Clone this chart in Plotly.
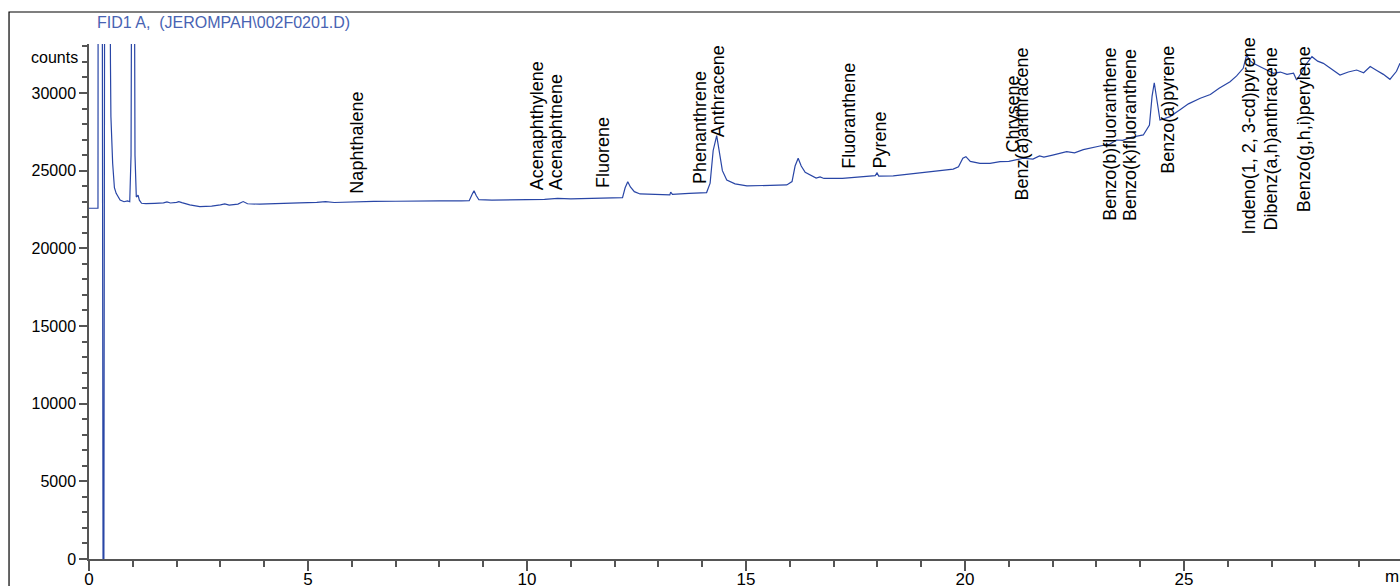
import plotly.graph_objects as go

# ---- data ----
time_min = [0.00, 0.205, 0.21, 0.30, 0.32, 0.34, 0.36, 0.47, 0.49, 0.50, 0.54, 0.58, 0.62, 0.67, 0.71,
            0.80, 0.88, 0.93, 0.96, 0.98, 1.03, 1.05, 1.08, 1.12, 1.15, 1.20, 1.30, 1.50, 1.70, 1.78,
            1.86, 2.00, 2.05, 2.12, 2.30, 2.53, 2.80, 3.00, 3.10, 3.20, 3.40, 3.52, 3.62, 3.90, 4.30,
            4.80, 5.20, 5.40, 5.60, 6.00, 6.50, 7.00, 7.50, 8.00, 8.50, 8.68, 8.75, 8.79, 8.84, 8.90,
            9.20, 9.60, 10.00, 10.40, 10.70, 11.00, 11.50, 12.00, 12.18, 12.24, 12.30, 12.36, 12.45, 12.58, 12.90,
            13.26, 13.28, 13.32, 13.70, 14.10, 14.18, 14.25, 14.33, 14.40, 14.46, 14.56, 14.75, 15.02, 15.40,
            15.93, 16.05, 16.12, 16.19, 16.26, 16.35, 16.46, 16.60, 16.69, 16.78, 17.20, 17.75, 17.95, 17.99,
            18.03, 18.36, 18.80, 19.30, 19.73, 19.85, 19.95, 20.02, 20.12, 20.34, 20.57, 20.80, 21.00, 21.33,
            21.55, 21.70, 21.80, 22.00, 22.32, 22.50, 22.70, 23.08, 23.30, 23.46, 23.60, 23.80, 24.07, 24.21,
            24.27, 24.32, 24.38, 24.45, 24.55, 24.68, 24.90, 25.10, 25.37, 25.60, 25.80, 26.05, 26.20, 26.35,
            26.43, 26.50, 26.58, 26.70, 26.85, 27.04, 27.20, 27.35, 27.50, 27.57, 27.70, 27.80, 27.92, 28.05,
            28.18, 28.35, 28.56, 28.75, 28.94, 29.10, 29.25, 29.40, 29.55, 29.70, 29.85, 29.93]
counts = [22580, 22580, 45000, 45000, 0, 0, 45000, 45000, 31900, 28500, 25475, 23900, 23540, 23250, 23112,
          23000, 23050, 23000, 26000, 45000, 45000, 26000, 23300, 23430, 23100, 22900, 22880, 22900, 22930, 22990,
          22920, 22960, 23010, 22940, 22800, 22680, 22720, 22800, 22860, 22780, 22850, 23010, 22870, 22840, 22900,
          22930, 22960, 23010, 22950, 22990, 23020, 23030, 23060, 23060, 23050, 23070, 23500, 23700, 23400, 23130,
          23110, 23100, 23130, 23150, 23220, 23180, 23200, 23230, 23260, 23900, 24290, 23950, 23650, 23500, 23460,
          23440, 23620, 23480, 23540, 23590, 24200, 26300, 27250, 26000, 25000, 24400, 24150, 24020, 24050,
          24080, 24300, 25300, 25800, 25300, 24900, 24720, 24520, 24600, 24500, 24510, 24660, 24680, 24850,
          24650, 24660, 24800, 24950, 25100, 25250, 25800, 25900, 25600, 25470, 25470, 25580, 25600, 25800,
          25750, 25950, 25870, 26000, 26220, 26150, 26350, 26590, 26700, 26975, 26950, 27150, 27300, 27940,
          29800, 30660, 29600, 28260, 28350, 28480, 28900, 29300, 29660, 29900, 30300, 30730, 31100, 31590,
          32450, 32100, 31910, 31750, 31500, 31270, 31350, 31200, 31270, 30840, 31400, 31900, 32340, 32050,
          31910, 31600, 31160, 31350, 31480, 31300, 31700, 31450, 31200, 30880, 31400, 31910]

peak_names = ["Naphthalene", "Acenaphthylene", "Acenaphtnene", "Fluorene", "Phenanthrene", "Anthracene",
              "Fluoranthene", "Pyrene", "Chrysene", "Benz(a)anthracene", "Benzo(b)fluoranthene",
              "Benzo(k)fluoranthene", "Benzo(a)pyrene", "Indeno(1, 2, 3-cd)pyrene", "Dibenz(a,h)anthracene",
              "Benzo(g,h,i)perylene"]
peak_times = [6.11, 10.23, 10.65, 11.74, 13.96, 14.36, 17.36, 18.05, 21.09, 21.31, 23.32, 23.75, 24.63,
              26.48, 26.99, 27.74]
label_base = [23434, 23647, 23711, 23801, 24078, 27084, 25089, 25089, 26119, 23003, 21715, 21715, 24722,
              20859, 21071, 22256]

y_ticks = [0, 5000, 10000, 15000, 20000, 25000, 30000]
x_ticks = [0, 5, 10, 15, 20, 25]

TRACE = "#2946a6"
TITLE_C = "#4863b3"
FONT = "Liberation Sans, Arial, sans-serif"

fig = go.Figure()
fig.add_trace(go.Scatter(x=time_min, y=counts, mode="lines",
                         line=dict(color=TRACE, width=1.2), showlegend=False, hoverinfo="skip"))

for name, t, b in zip(peak_names, peak_times, label_base):
    fig.add_annotation(x=t, y=b, xref="x", yref="y", text=name, textangle=-90,
                       showarrow=False, xanchor="center", yanchor="bottom",
                       font=dict(family=FONT, size=18, color="black"), borderpad=0)

# title
fig.add_annotation(x=0.0046, y=1.0408, xref="paper", yref="paper", text="FID1 A,  (JEROMPAH\\002F0201.D)",
                   showarrow=False, xanchor="left", yanchor="middle",
                   font=dict(family=FONT, size=16, color=TITLE_C))
# axis unit labels
fig.add_annotation(x=-0.007, y=32300, xref="paper", yref="y", text="counts", showarrow=False,
                   xanchor="right", yanchor="middle", font=dict(family=FONT, size=16, color="black"))
fig.add_annotation(x=29.55, y=-0.012, xref="x", yref="paper", text="min", showarrow=False,
                   xanchor="left", yanchor="top", font=dict(family=FONT, size=17, color="black"))

# outer frame
fig.add_shape(type="rect", xref="paper", yref="paper", x0=-0.061, x1=1.05, y0=-0.3, y1=1.0621,
              line=dict(color="black", width=1.2), fillcolor="rgba(0,0,0,0)", layer="above")

axis_col = "#555555"
fig.update_xaxes(range=[0, 29.93], tickvals=x_ticks, ticktext=[str(v) for v in x_ticks],
                 automargin=False, ticklabelstandoff=-6,
                 showgrid=False, zeroline=False, showline=True, linecolor=axis_col, linewidth=1.5,
                 ticks="outside", ticklen=10, tickwidth=1.5, tickcolor=axis_col,
                 minor=dict(dtick=1, ticks="outside", ticklen=6, tickwidth=1.5, tickcolor=axis_col),
                 tickfont=dict(family=FONT, size=17, color="black"))
fig.update_yaxes(range=[0, 33155], tickvals=y_ticks, ticktext=[str(v) for v in y_ticks],
                 automargin=False,
                 showgrid=False, zeroline=False, showline=True, linecolor=axis_col, linewidth=1.5,
                 ticks="outside", ticklen=8, tickwidth=1.5, tickcolor=axis_col,
                 minor=dict(dtick=1000, ticks="outside", ticklen=5, tickwidth=1.5, tickcolor=axis_col),
                 tickfont=dict(family=FONT, size=16, color="black"))

fig.update_layout(width=1400, height=586, margin=dict(l=89, r=0, t=44, b=27, autoexpand=False),
                  paper_bgcolor="white", plot_bgcolor="white", showlegend=False)

fig.write_html("out.html", config={"displayModeBar": False},
               post_script="document.body.style.margin='0';")
